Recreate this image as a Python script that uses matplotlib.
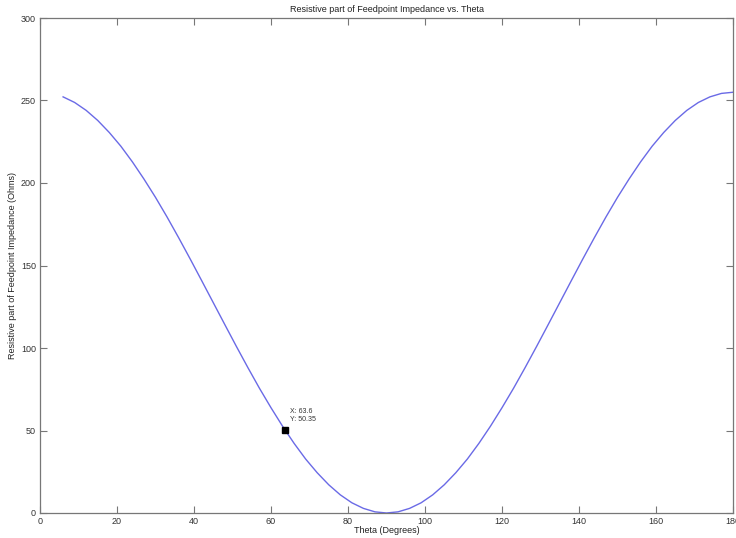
import matplotlib
matplotlib.use("Agg")
import matplotlib.pyplot as plt

theta = [6, 9, 12, 15, 18, 21, 24, 27, 30, 33, 36, 39, 42, 45, 48, 51, 54, 57, 60,
         63, 66, 69, 72, 75, 78, 81, 84, 87, 90, 93, 96, 99, 102, 105, 108, 111,
         114, 117, 120, 123, 126, 129, 132, 135, 138, 141, 144, 147, 150, 153,
         156, 159, 162, 165, 168, 171, 174, 177, 180]
resistance = [252.2, 248.8, 244.0, 237.9, 230.6, 222.3, 212.8, 202.4, 191.3, 179.4,
              166.9, 154.0, 140.8, 127.5, 114.2, 101.0, 88.1, 75.6, 63.8, 52.6,
              42.2, 32.7, 24.4, 17.1, 11.0, 6.2, 2.8, 0.7, 0.0, 0.7, 2.8, 6.2, 11.0,
              17.1, 24.4, 32.7, 42.2, 52.6, 63.8, 75.6, 88.1, 101.0, 114.2, 127.5,
              140.8, 154.0, 166.9, 179.4, 191.3, 202.4, 212.8, 222.3, 230.6, 237.9,
              244.0, 248.8, 252.2, 254.3, 255.0]
tip_x = 63.6
tip_y = 50.35

xticks = [0, 20, 40, 60, 80, 100, 120, 140, 160, 180]
yticks = [0, 50, 100, 150, 200, 250, 300]

plt.rcParams['font.family'] = ['Liberation Sans', 'DejaVu Sans']

fig = plt.figure(figsize=(7.36, 5.38), dpi=100)
ax = fig.add_axes([40/736, 25/538, 693/736, 495/538])

ax.plot(theta, resistance, color='#6a6ae6', linewidth=1.0)
ax.plot([tip_x], [tip_y], marker='s', color='black', markersize=4, linestyle='none')
ax.annotate(f"X: {tip_x}\nY: {tip_y}", xy=(tip_x, tip_y), xytext=(4, 5),
            textcoords='offset points', fontsize=5, color='#333333',
            va='bottom', ha='left', linespacing=1.2)

ax.set_xlim(0, 180)
ax.set_ylim(0, 300)
ax.set_xticks(xticks)
ax.set_yticks(yticks)
ax.tick_params(direction='in', length=5, width=0.8, colors='#777777',
               labelcolor='#333333', labelsize=6.5, top=True, right=True, pad=3)
for s in ax.spines.values():
    s.set_color('#777777')
    s.set_linewidth(0.9)

ax.set_title("Resistive part of Feedpoint Impedance vs. Theta", fontsize=6.5,
             color='#222222', pad=4)
ax.set_xlabel("Theta (Degrees)", fontsize=6.5, color='#222222', labelpad=0)
ax.set_ylabel("Resistive part of Feedpoint Impedance (Ohms)", fontsize=6.5,
              color='#222222', labelpad=3)

fig.savefig("out.png", dpi=100)
